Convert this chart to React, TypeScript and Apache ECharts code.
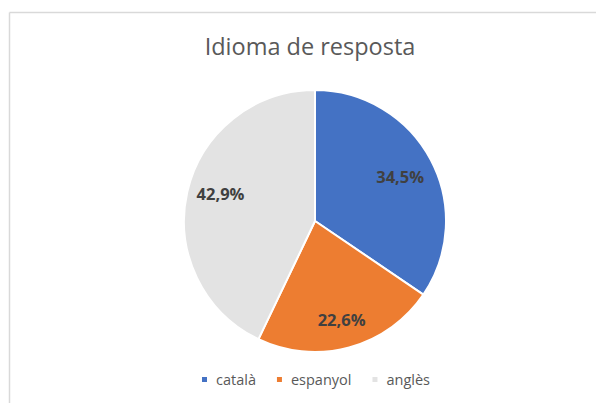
import React, { useEffect, useRef } from "react";
import * as echarts from "echarts";

const categories = ["català", "espanyol", "anglès"];
const values = [34.5, 22.6, 42.9];
const colors = ["#4472C4", "#ED7D31", "#E3E3E3"];
const titleText = "Idioma de resposta";

export default function App() {
  const ref = useRef<HTMLDivElement>(null);
  useEffect(() => {
    document.body.style.margin = "0";
    const chart = echarts.init(ref.current!, null, { renderer: "svg" });
    const labelNudges = [[-5, 3], [0, 0], [5, -5]];
    const data = categories.map((name, i) => ({
      name,
      value: values[i],
      itemStyle: { color: colors[i] },
    }));
    const fmt = (p: any) => p.value.toFixed(1).replace(".", ",") + "%";
    chart.setOption({
      animation: false,
      backgroundColor: "#ffffff",
      title: {
        text: titleText,
        left: 305,
        textAlign: "center",
        top: 29,
        textStyle: {
          fontFamily: "Open Sans",
          fontSize: 23.5,
          fontWeight: "normal",
          color: "#595959",
        },
      },
      legend: {
        data: categories,
        bottom: 11,
        left: 195,
        itemWidth: 7,
        itemHeight: 7,
        itemGap: 19,
        icon: "rect",
        textStyle: { fontFamily: "Open Sans", fontSize: 14.5, color: "#595959", padding: [0, 0, 0, 3] },
      },
      graphic: [
        {
          type: "line",
          shape: { x1: 9.5, y1: 12.5, x2: 596, y2: 12.5 },
          style: { stroke: "#D9D9D9", lineWidth: 1.5 },
          silent: true,
        },
        {
          type: "line",
          shape: { x1: 9.5, y1: 12.5, x2: 9.5, y2: 403 },
          style: { stroke: "#D9D9D9", lineWidth: 1.5 },
          silent: true,
        },
      ],
      series: [
        {
          type: "pie",
          center: [315, 221],
          radius: [0, 131],
          startAngle: 90,
          clockwise: true,
          data,
          label: { show: false },
          labelLine: { show: false },
          itemStyle: { borderColor: "#ffffff", borderWidth: 2 },
          emphasis: { disabled: true },
          silent: true,
        },
        {
          type: "pie",
          center: [315, 221],
          radius: [67, 131],
          startAngle: 90,
          clockwise: true,
          data: data.map((d, i) => ({
            ...d,
            itemStyle: { color: "rgba(0,0,0,0)" },
            label: { offset: labelNudges[i] },
          })),
          label: {
            show: true,
            position: "inside",
            formatter: fmt,
            fontFamily: "Open Sans",
            fontSize: 16.5,
            fontWeight: "bold",
            color: "#404040",
          },
          labelLine: { show: false },
          emphasis: { disabled: true },
          silent: true,
        },
      ],
    });
    return () => chart.dispose();
  }, []);
  return <div ref={ref} style={{ width: 596, height: 403 }} />;
}
